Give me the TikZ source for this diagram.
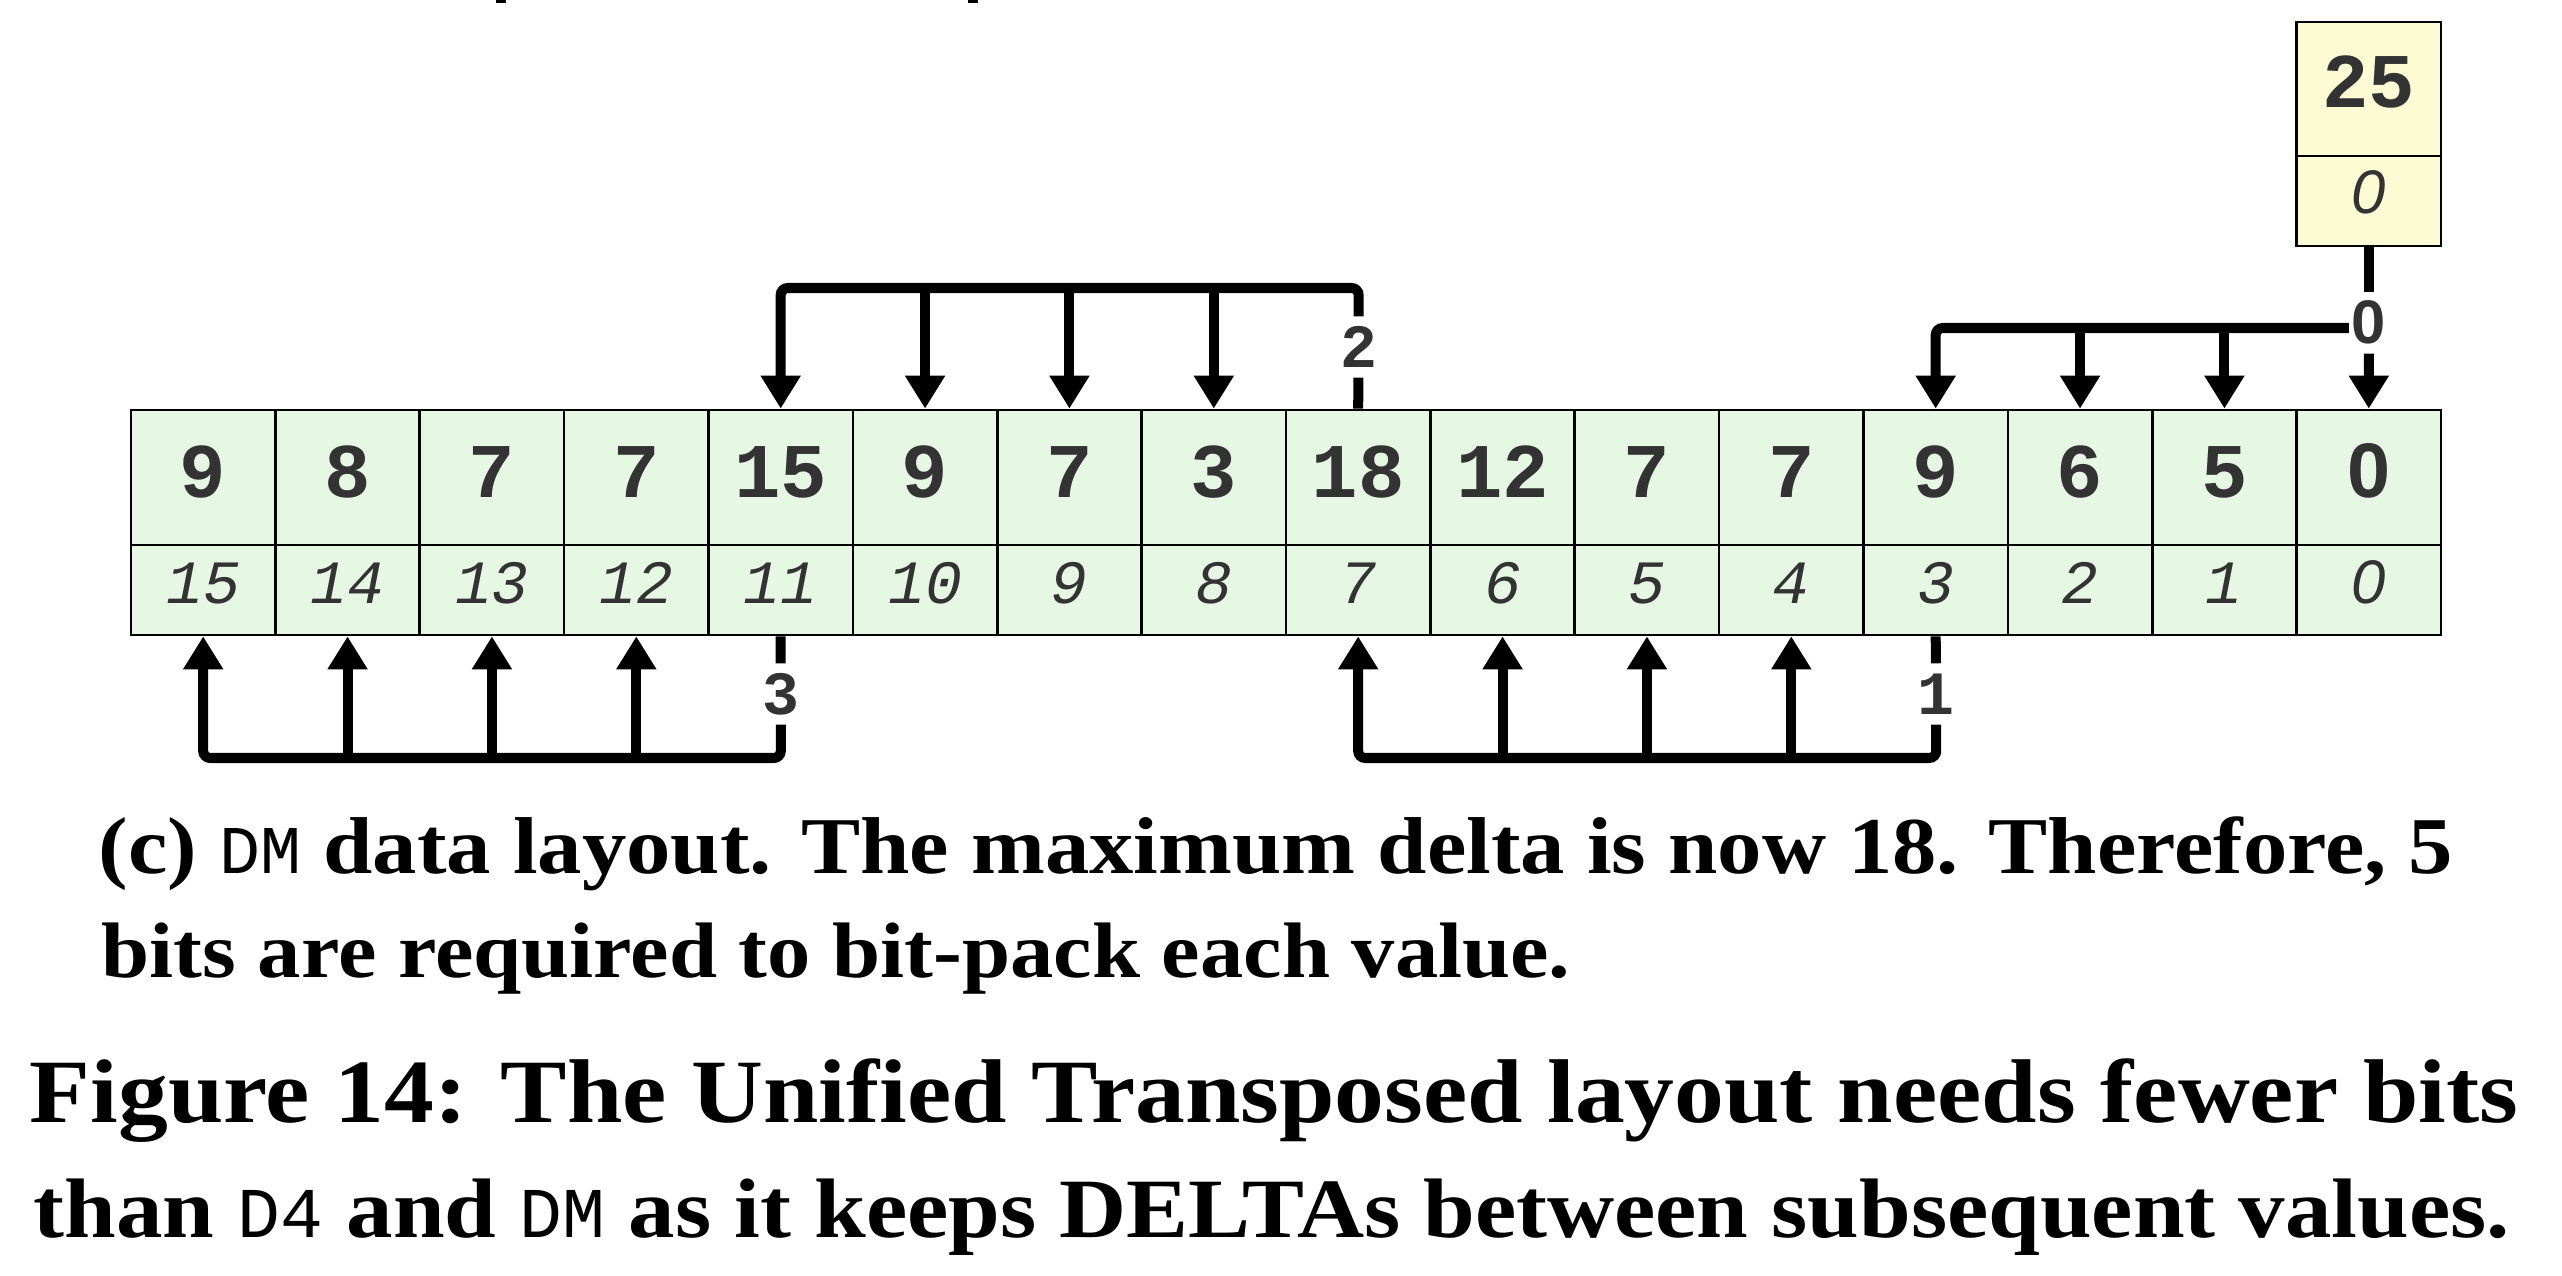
\documentclass[tikz,border=0pt]{standalone}
\usepackage{fontspec}
\setmainfont{Liberation Serif}
\newfontfamily\monof{Liberation Mono}
\newfontfamily\zf{Liberation Sans}
\newfontfamily\capf[FakeStretch=1.1]{Liberation Serif}
\usetikzlibrary{arrows.meta}
\definecolor{cellgreen}{RGB}{230,247,228}
\definecolor{cellyellow}{RGB}{253,251,211}
\definecolor{numgray}{RGB}{51,51,51}
\newcommand{\zerodig}{{\zf 0}}
\tikzset{
  cellbase/.style={draw=black, line width=0.75pt, inner sep=0pt, text=numgray,
    minimum width=1.44375cm},
  valcell/.style={cellbase, fill=cellgreen, minimum height=1.35cm,
    font=\monof\bfseries\fontsize{22}{22}\selectfont, text height=0.52cm, text depth=0.13cm},
  idxcell/.style={cellbase, fill=cellgreen, minimum height=0.9cm,
    font=\monof\itshape\fontsize{17.5}{17.5}\selectfont, text height=0.40cm, text depth=0.14cm},
  yvalcell/.style={valcell, fill=cellyellow, minimum height=1.34cm, text depth=0.16cm},
  yidxcell/.style={idxcell, fill=cellyellow, text depth=0.16cm},
  lab/.style={font=\monof\bfseries\fontsize{17.5}{17.5}\selectfont, text=numgray,
    inner xsep=0.02cm, inner ysep=0.1cm, text height=0.40cm, text depth=0cm},
  conn/.style={draw=black, line width=0.1cm, rounded corners=0.07cm},
  arr/.style={-{Triangle[length=0.33cm,width=0.38cm]}},
  capnode/.style={anchor=base west, inner sep=0pt}
}
\begin{document}
\begin{tikzpicture}[x=0.01cm,y=-0.01cm]
\useasboundingbox (0,0) rectangle (2562,1276);
% cut-off remnants at the top edge
\fill (496,0) rectangle (506,3);
\fill (968,0) rectangle (978,3);
% array cells (index 0 at the right)
\foreach \v [count=\k from 0] in {\zerodig,5,6,9,7,7,12,18,3,7,9,15,7,7,8,9} {
  \node[valcell] (v\k) at ({2441-(\k+0.5)*144.375}, 477.5) {\v};
  \node[idxcell] (i\k) at ({2441-(\k+0.5)*144.375}, 590) {\ifnum\k=0 \zerodig\else\k\fi};
}
% base value box
\node[yvalcell] (b) at (2368.8, 89) {25};
\node[yidxcell] (bi) at (2368.8, 201) {\zerodig};
% labels
\coordinate (p0) at (2368.8, 323);
\node[lab] (l0) at (p0) {\zerodig};
\coordinate (q2) at (1358.6, 347);
\node[lab] (l2) at (q2) {2};
\coordinate (q3) at (780.8, 694);
\node[lab] (l3) at (q3) {3};
\coordinate (q1) at (1936.2, 694);
\node[lab] (l1) at (q1) {1};
% group 0
\coordinate (c0) at (2350, 328);
\draw[conn] (bi) -- (l0);
\draw[conn,arr] (l0) -- (v0);
\draw[conn,arr] (l0.west |- c0) -| (v3.north);
\foreach \k in {1,2} { \draw[conn,arr] (v\k |- c0) -- (v\k.north); }
% group 2
\coordinate (c2) at (1358.6, 288);
\draw[conn] (v7.north) -- (l2);
\draw[conn,arr] (l2.north) -- (c2) -| (v11.north);
\foreach \k in {8,9,10} { \draw[conn,arr] (v\k |- c2) -- (v\k.north); }
% group 3
\coordinate (c3) at (780.8, 758);
\draw[conn] (i11.south) -- (l3);
\draw[conn,arr] (l3.south) -- (c3) -| (i15.south);
\foreach \k in {12,13,14} { \draw[conn,arr] (i\k |- c3) -- (i\k.south); }
% group 1
\coordinate (c1) at (1936.2, 758);
\draw[conn] (i3.south) -- (l1);
\draw[conn,arr] (l1.south) -- (c1) -| (i7.south);
\foreach \k in {4,5,6} { \draw[conn,arr] (i\k |- c1) -- (i\k.south); }
% captions
\node[capnode] (cap1) at (98,873) {\resizebox{23.53cm}{!}{\capf\bfseries\fontsize{23.6}{28}\selectfont (c) {\monof\mdseries\fontsize{20}{20}\selectfont DM} data layout. The maximum delta is now 18. Therefore, 5}};
\node[capnode] (cap2) at (101,977) {\resizebox{14.68cm}{!}{\capf\bfseries\fontsize{23.6}{28}\selectfont bits are required to bit-pack each value.}};
\node[capnode] (cap3) at (29,1122) {\resizebox{24.87cm}{!}{\capf\bfseries\fontsize{26}{30}\selectfont Figure 14: The Unified Transposed layout needs fewer bits}};
\node[capnode] (cap4) at (33,1237) {\resizebox{24.75cm}{!}{\capf\bfseries\fontsize{26}{30}\selectfont than {\monof\mdseries\fontsize{22}{22}\selectfont D4} and {\monof\mdseries\fontsize{22}{22}\selectfont DM} as it keeps DELTAs between subsequent values.}};
\end{tikzpicture}
\end{document}
